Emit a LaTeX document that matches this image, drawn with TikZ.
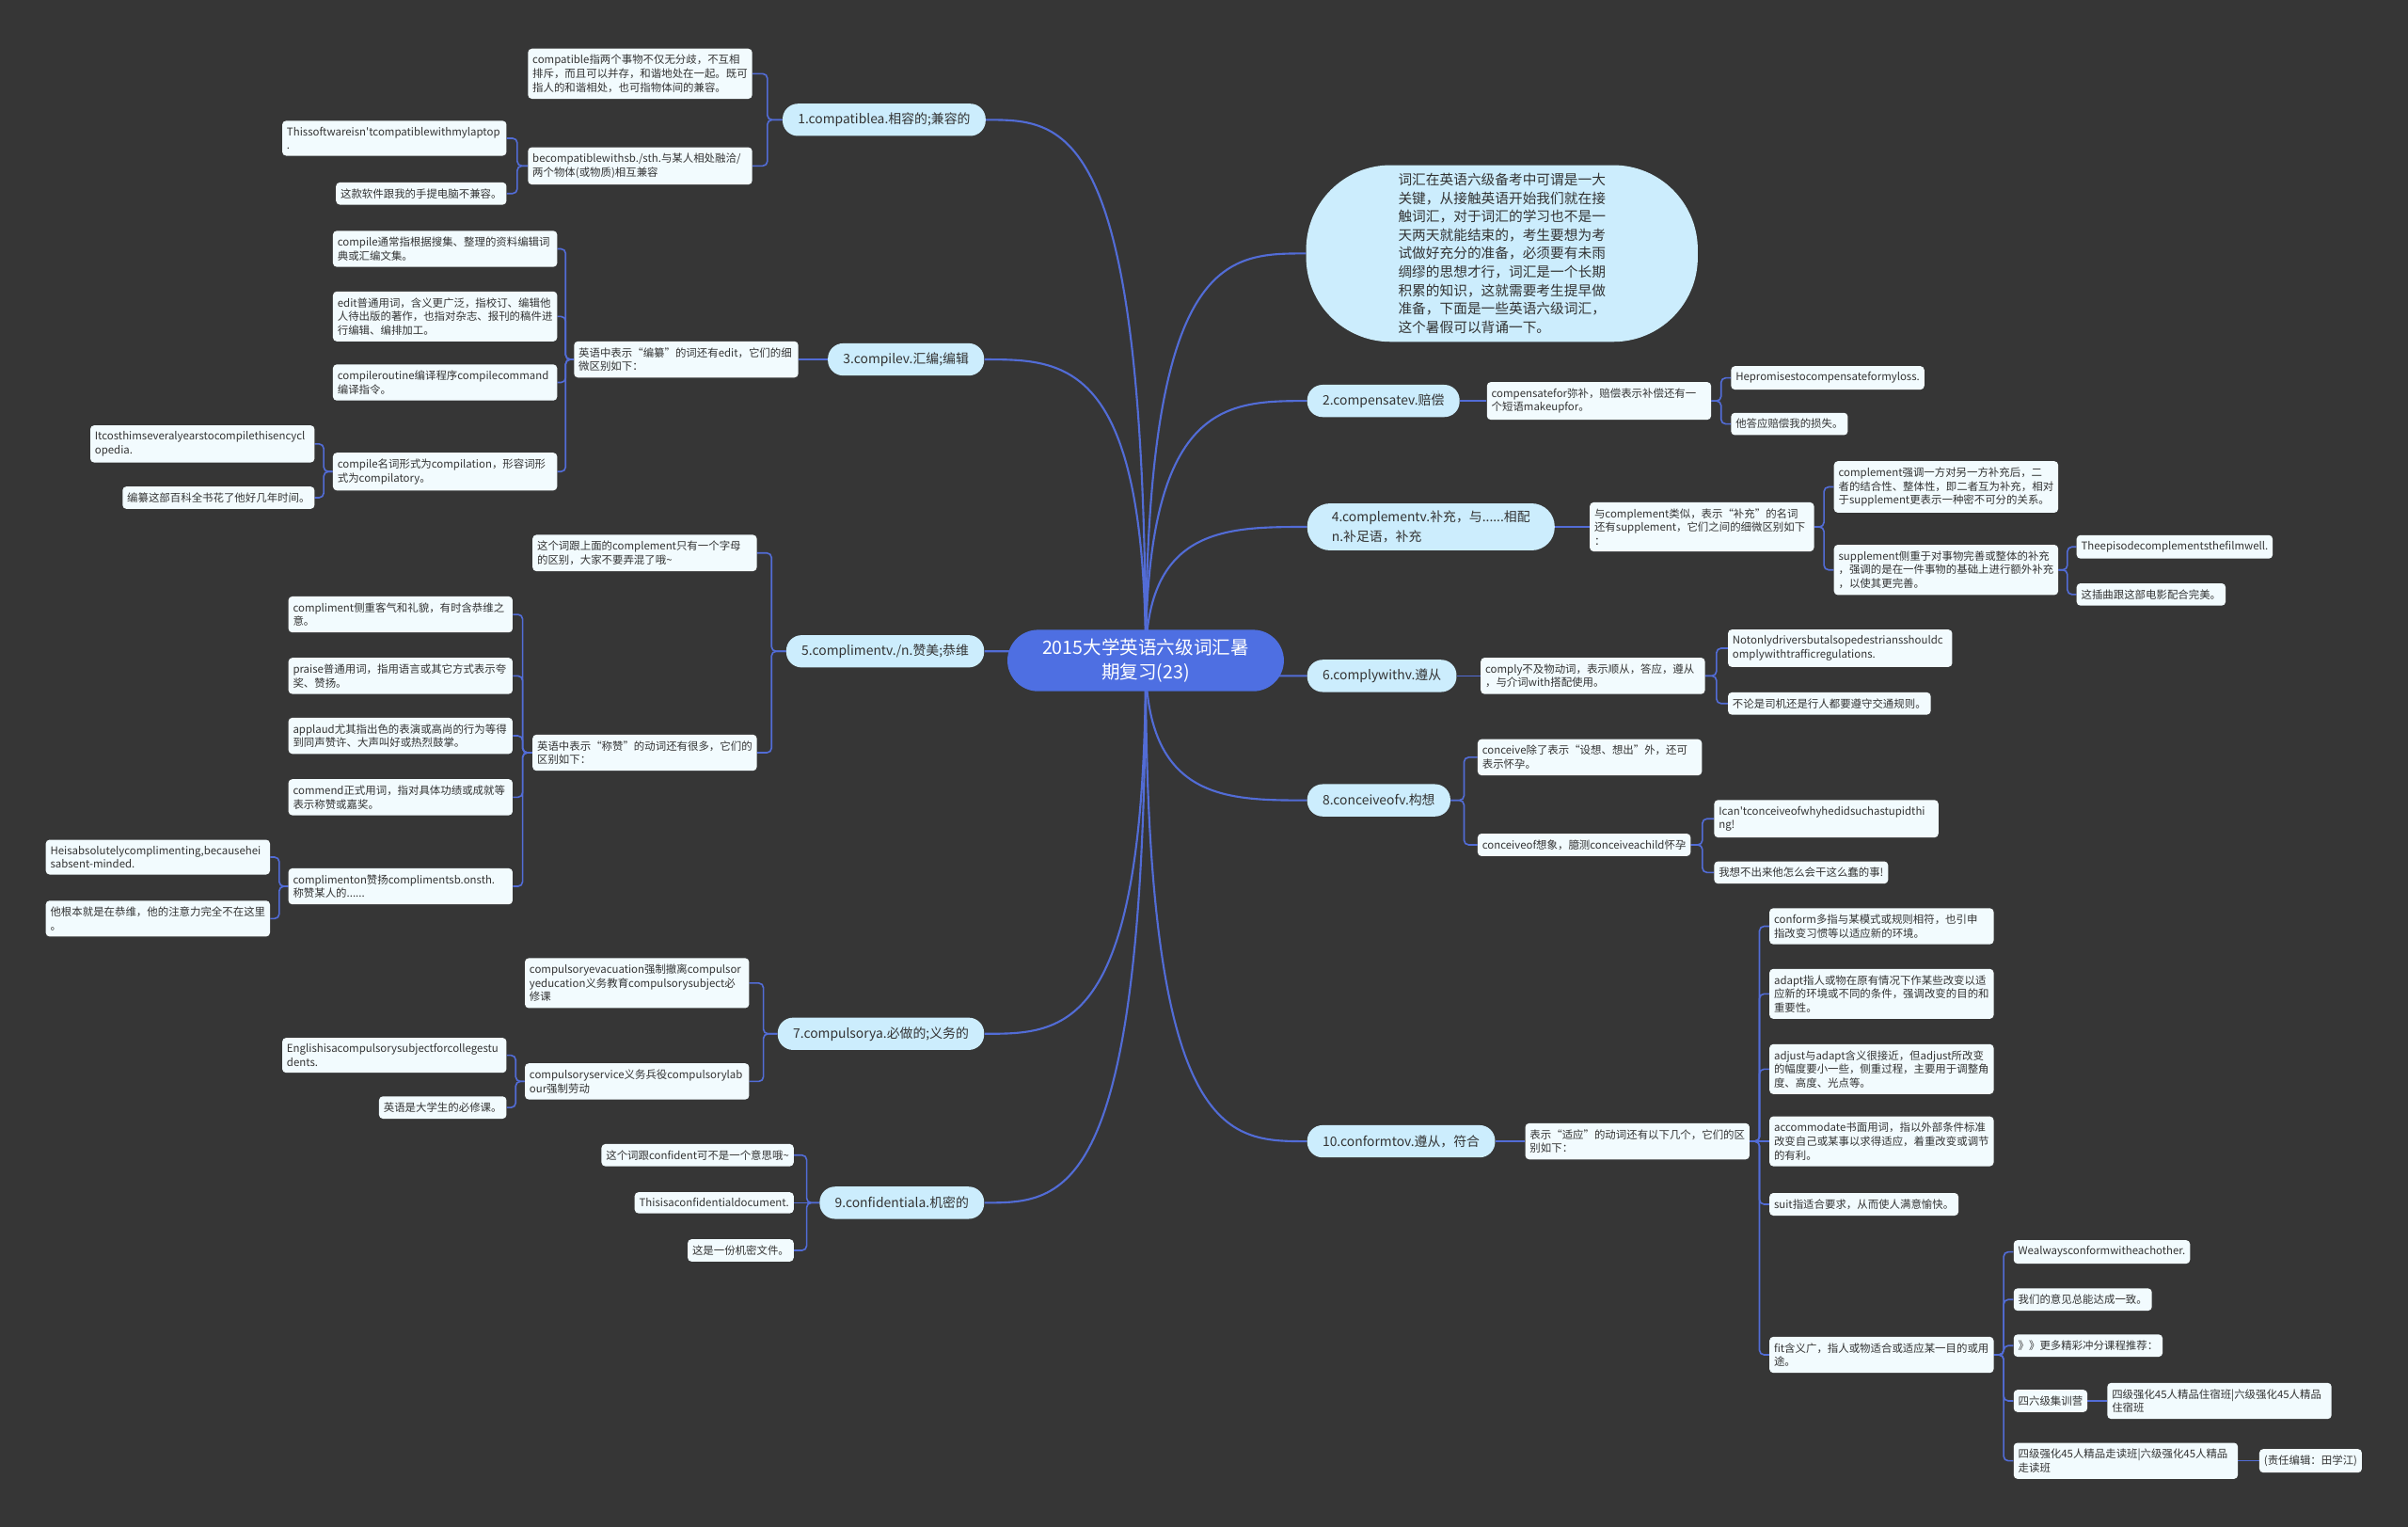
\documentclass[tikz,border=0pt]{standalone}
\usepackage{fontspec}
\setmainfont{Noto Sans CJK SC}
\usetikzlibrary{calc}
\definecolor{bgcol}{RGB}{54,54,54}
\definecolor{rootcol}{RGB}{78,111,226}
\definecolor{topiccol}{RGB}{204,237,253}
\definecolor{leafcol}{RGB}{242,251,254}
\definecolor{linecol}{RGB}{82,108,214}
\definecolor{txtcol}{RGB}{51,51,51}
\pgfdeclarelayer{back}
\pgfsetlayers{back,main}
\hyphenpenalty=10000
\exhyphenpenalty=10000
\begin{document}
\begin{tikzpicture}[x=1pt,y=-1pt,
  root/.style={fill=rootcol,text=white,rounded corners=20pt,minimum width=180pt,minimum height=40pt,align=center,font=\fontsize{12}{16}\selectfont},
  intro/.style={fill=topiccol,text=txtcol,rounded corners=55pt,minimum width=255pt,minimum height=115pt,align=left,font=\fontsize{9}{12}\selectfont},
  topic/.style={fill=topiccol,text=txtcol,rounded corners=10pt,inner xsep=10pt,inner ysep=5pt,minimum height=21pt,align=left,font=\fontsize{8.5}{12.5}\selectfont},
  leaf/.style={fill=leafcol,text=txtcol,rounded corners=2.5pt,inner xsep=3pt,inner ysep=4pt,align=left,font=\fontsize{7}{9}\selectfont},
  wleaf/.style={leaf,text width=140pt},
  link/.style={draw=linecol,line width=1pt,rounded corners=3pt},
  branch/.style={draw=linecol,line width=1.3pt}]
\useasboundingbox (0,0) rectangle (1568,994);

\node[root] (root) at (746,430) {2015大学英语六级词汇暑\\期复习(23)};

\node[topic,anchor=east] (n1) at (642,78) {1.compatiblea.相容的;兼容的};
\node[topic,anchor=east] (n3) at (641,234) {3.compilev.汇编;编辑};
\node[topic,anchor=east] (n5) at (641,424) {5.complimentv./n.赞美;恭维};
\node[topic,anchor=east] (n7) at (641,673) {7.compulsorya.必做的;义务的};
\node[topic,anchor=east] (n9) at (641,783) {9.confidentiala.机密的};

\node[intro] (n0) at (978,165) {词汇在英语六级备考中可谓是一大\\关键，从接触英语开始我们就在接\\触词汇，对于词汇的学习也不是一\\天两天就能结束的，考生要想为考\\试做好充分的准备，必须要有未雨\\绸缪的思想才行，词汇是一个长期\\积累的知识，这就需要考生提早做\\准备，下面是一些英语六级词汇，\\这个暑假可以背诵一下。};
\node[topic,anchor=west] (n2) at (851,261) {2.compensatev.赔偿};
\node[topic,anchor=west,rounded corners=15pt,inner xsep=16pt] (n4) at (851,343) {4.complementv.补充，与......相配\\n.补足语，补充};
\node[topic,anchor=west] (n6) at (851,440) {6.complywithv.遵从};
\node[topic,anchor=west] (n8) at (851,521) {8.conceiveofv.构想};
\node[topic,anchor=west] (n10) at (851,743) {10.conformtov.遵从，符合};

\node[wleaf,anchor=east] (c1a) at (490,48) {compatible指两个事物不仅无分歧，不互相\\排斥，而且可以并存，和谐地处在一起。既可\\指人的和谐相处，也可指物体间的兼容。};
\node[wleaf,anchor=east] (c1b) at (490,108) {becompatiblewithsb./sth.与某人相处融洽/\\两个物体(或物质)相互兼容};
\node[wleaf,anchor=east] (c1b1) at (330,90) {Thissoftwareisn\textquotesingle tcompatiblewithmylaptop\\.};
\node[leaf,anchor=east] (c1b2) at (330,126) {这款软件跟我的手提电脑不兼容。};

\node[wleaf,anchor=east] (c3a) at (520,234) {英语中表示“编纂”的词还有edit，它们的细\\微区别如下：};
\node[wleaf,anchor=east] (c3a1) at (363,162) {compile通常指根据搜集、整理的资料编辑词\\典或汇编文集。};
\node[wleaf,anchor=east] (c3a2) at (363,206) {edit普通用词，含义更广泛，指校订、编辑他\\人待出版的著作，也指对杂志、报刊的稿件进\\行编辑、编排加工。};
\node[wleaf,anchor=east] (c3a3) at (363,249) {compileroutine编译程序compilecommand\\编译指令。};
\node[wleaf,anchor=east] (c3a4) at (363,307) {compile名词形式为compilation，形容词形\\式为compilatory。};
\node[wleaf,anchor=east] (c3a4a) at (205,289) {Itcosthimseveralyearstocompilethisencycl\\opedia.};
\node[leaf,anchor=east] (c3a4b) at (205,324) {编纂这部百科全书花了他好几年时间。};

\node[wleaf,anchor=east] (c5a) at (493,360) {这个词跟上面的complement只有一个字母\\的区别，大家不要弄混了哦\textasciitilde};
\node[wleaf,anchor=east] (c5b) at (493,490) {英语中表示“称赞”的动词还有很多，它们的\\区别如下：};
\node[wleaf,anchor=east] (c5b1) at (334,400) {compliment侧重客气和礼貌，有时含恭维之\\意。};
\node[wleaf,anchor=east] (c5b2) at (334,440) {praise普通用词，指用语言或其它方式表示夸\\奖、赞扬。};
\node[wleaf,anchor=east] (c5b3) at (334,479) {applaud尤其指出色的表演或高尚的行为等得\\到同声赞许、大声叫好或热烈鼓掌。};
\node[wleaf,anchor=east] (c5b4) at (334,519) {commend正式用词，指对具体功绩或成就等\\表示称赞或嘉奖。};
\node[wleaf,anchor=east] (c5b5) at (334,577) {complimenton赞扬complimentsb.onsth.\\称赞某人的......};
\node[wleaf,anchor=east] (c5b5a) at (176,558) {Heisabsolutelycomplimenting,becausehei\\sabsent-minded.};
\node[wleaf,anchor=east] (c5b5b) at (176,598) {他根本就是在恭维，他的注意力完全不在这里\\。};

\node[wleaf,anchor=east] (c7a) at (488,640) {compulsoryevacuation强制撤离compulsor\\yeducation义务教育compulsorysubject必\\修课};
\node[wleaf,anchor=east] (c7b) at (488,704) {compulsoryservice义务兵役compulsorylab\\our强制劳动};
\node[wleaf,anchor=east] (c7b1) at (330,687) {Englishisacompulsorysubjectforcollegestu\\dents.};
\node[leaf,anchor=east] (c7b2) at (330,721) {英语是大学生的必修课。};

\node[leaf,anchor=east] (c9a) at (517,752) {这个词跟confident可不是一个意思哦\textasciitilde};
\node[leaf,anchor=east] (c9b) at (517,783) {Thisisaconfidentialdocument.};
\node[leaf,anchor=east] (c9c) at (517,814) {这是一份机密文件。};

\node[wleaf,anchor=west] (c2a) at (968,261) {compensatefor弥补，赔偿表示补偿还有一\\个短语makeupfor。};
\node[leaf,anchor=west] (c2a1) at (1127,246) {Hepromisestocompensateformyloss.};
\node[leaf,anchor=west] (c2a2) at (1127,276) {他答应赔偿我的损失。};

\node[wleaf,anchor=west] (c4a) at (1035,343) {与complement类似，表示“补充”的名词\\还有supplement，它们之间的细微区别如下\\：};
\node[wleaf,anchor=west] (c4a1) at (1194,317) {complement强调一方对另一方补充后，二\\者的结合性、整体性，即二者互为补充，相对\\于supplement更表示一种密不可分的关系。};
\node[wleaf,anchor=west] (c4a2) at (1194,371) {supplement侧重于对事物完善或整体的补充\\，强调的是在一件事物的基础上进行额外补充\\，以使其更完善。};
\node[leaf,anchor=west] (c4a2a) at (1352,356) {Theepisodecomplementsthefilmwell.};
\node[leaf,anchor=west] (c4a2b) at (1352,387) {这插曲跟这部电影配合完美。};

\node[wleaf,anchor=west] (c6a) at (964,440) {comply不及物动词，表示顺从，答应，遵从\\，与介词with搭配使用。};
\node[wleaf,anchor=west] (c6a1) at (1125,422) {Notonlydriversbutalsopedestriansshouldc\\omplywithtrafficregulations.};
\node[leaf,anchor=west] (c6a2) at (1125,458) {不论是司机还是行人都要遵守交通规则。};

\node[wleaf,anchor=west] (c8a) at (962,493) {conceive除了表示“设想、想出”外，还可\\表示怀孕。};
\node[leaf,anchor=west] (c8b) at (962,550) {conceiveof想象，臆测conceiveachild怀孕};
\node[wleaf,anchor=west] (c8b1) at (1116,533) {Ican\textquotesingle tconceiveofwhyhedidsuchastupidthi\\ng!};
\node[leaf,anchor=west] (c8b2) at (1116,568) {我想不出来他怎么会干这么蠢的事!};

\node[wleaf,anchor=west] (c10a) at (993,743) {表示“适应”的动词还有以下几个，它们的区\\别如下：};
\node[wleaf,anchor=west] (c10a1) at (1152,603) {conform多指与某模式或规则相符，也引申\\指改变习惯等以适应新的环境。};
\node[wleaf,anchor=west] (c10a2) at (1152,647) {adapt指人或物在原有情况下作某些改变以适\\应新的环境或不同的条件，强调改变的目的和\\重要性。};
\node[wleaf,anchor=west] (c10a3) at (1152,696) {adjust与adapt含义很接近，但adjust所改变\\的幅度要小一些，侧重过程，主要用于调整角\\度、高度、光点等。};
\node[wleaf,anchor=west] (c10a4) at (1152,743) {accommodate书面用词，指以外部条件标准\\改变自己或某事以求得适应，着重改变或调节\\的有利。};
\node[leaf,anchor=west] (c10a5) at (1152,784) {suit指适合要求，从而使人满意愉快。};
\node[wleaf,anchor=west] (c10a6) at (1152,882) {fit含义广，指人或物适合或适应某一目的或用\\途。};
\node[leaf,anchor=west] (c10a6a) at (1311,815) {Wealwaysconformwitheachother.};
\node[leaf,anchor=west] (c10a6b) at (1311,846) {我们的意见总能达成一致。};
\node[leaf,anchor=west] (c10a6c) at (1311,876) {》》更多精彩冲分课程推荐：};
\node[leaf,anchor=west] (c10a6d) at (1311,912) {四六级集训营};
\node[wleaf,anchor=west] (c10a6d1) at (1372,912) {四级强化45人精品住宿班|六级强化45人精品\\住宿班};
\node[wleaf,anchor=west] (c10a6e) at (1311,951) {四级强化45人精品走读班|六级强化45人精品\\走读班};
\node[leaf,anchor=west] (c10a6e1) at (1471,951) {(责任编辑：田学江)};

\begin{pgfonlayer}{back}
\fill[bgcol] (0,0) rectangle (1568,994);
\foreach \ch in {n1,n3,n5,n7,n9}
  \draw[branch] (root.center) .. controls (root.center |- \ch.east) and ($(root.center |- \ch.east)!.5!(\ch.east)$) .. (\ch.east);
\foreach \ch in {n0,n2,n4,n6,n8,n10}
  \draw[branch] (root.center) .. controls (root.center |- \ch.west) and ($(root.center |- \ch.west)!.5!(\ch.west)$) .. (\ch.west);
\foreach \pa/\ch in {n1/c1a,n1/c1b,c1b/c1b1,c1b/c1b2,
    c3a/c3a1,c3a/c3a2,c3a/c3a3,c3a/c3a4,c3a4/c3a4a,c3a4/c3a4b,
    n5/c5a,n5/c5b,c5b/c5b1,c5b/c5b2,c5b/c5b3,c5b/c5b4,c5b/c5b5,c5b5/c5b5a,c5b5/c5b5b,
    n7/c7a,n7/c7b,c7b/c7b1,c7b/c7b2,n9/c9a,n9/c9c}
  \draw[link] (\pa.west) -- ($(\pa.west)!.5!(\pa.west -| \ch.east)$) |- (\ch.east);
\foreach \pa/\ch in {n3/c3a,n9/c9b}
  \draw[link] (\pa.west) -- (\ch.east);
\foreach \pa/\ch in {c2a/c2a1,c2a/c2a2,c4a/c4a1,c4a/c4a2,c4a2/c4a2a,c4a2/c4a2b,
    c6a/c6a1,c6a/c6a2,n8/c8a,n8/c8b,c8b/c8b1,c8b/c8b2,
    c10a/c10a1,c10a/c10a2,c10a/c10a3,c10a/c10a5,c10a/c10a6,
    c10a6/c10a6a,c10a6/c10a6b,c10a6/c10a6c,c10a6/c10a6d,c10a6/c10a6e}
  \draw[link] (\pa.east) -- ($(\pa.east)!.5!(\pa.east -| \ch.west)$) |- (\ch.west);
\foreach \pa/\ch in {n2/c2a,n4/c4a,n6/c6a,n10/c10a,c10a/c10a4,c10a6d/c10a6d1,c10a6e/c10a6e1}
  \draw[link] (\pa.east) -- (\ch.west);
\end{pgfonlayer}
\end{tikzpicture}
\end{document}
